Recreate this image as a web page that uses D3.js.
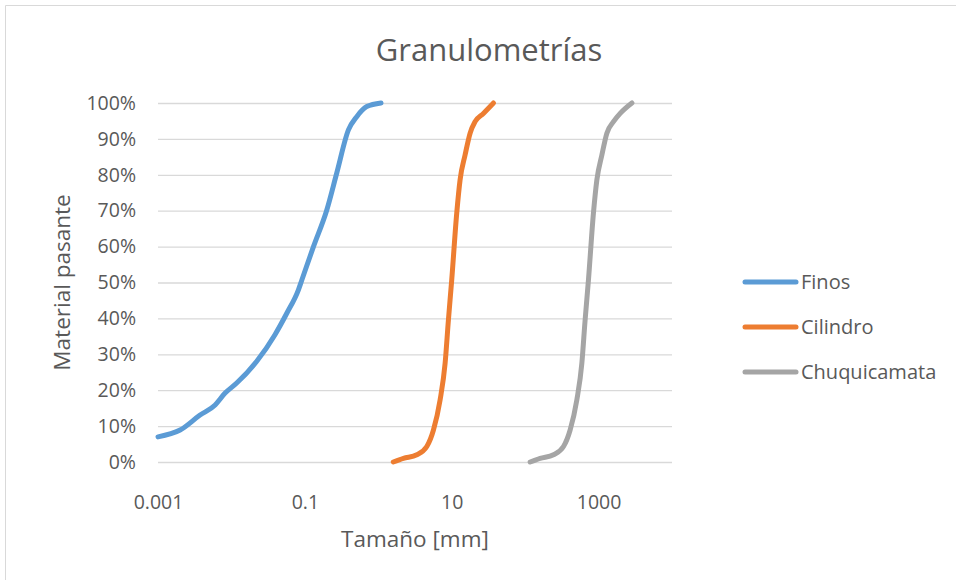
<!DOCTYPE html>
<html>
<head>
<meta charset="utf-8">
<script src="https://cdn.jsdelivr.net/npm/d3@7"></script>
<style>
  html, body { margin: 0; padding: 0; background: #fff; overflow: hidden; }
  svg { display: block; }
  text { font-family: "Open Sans", "Noto Sans", sans-serif; fill: #595959; }
</style>
</head>
<body>
<div id="chart"></div>
<script>
// Particle size (mm) and cumulative passing fraction for each sample
const finosSize = [0.001, 0.002, 0.0037, 0.006, 0.0082, 0.0118, 0.022, 0.039, 0.057, 0.0815, 0.091, 0.131, 0.199, 0.272, 0.392, 0.509, 0.697, 1.09];
const finosPass = [0.07, 0.089, 0.13, 0.159, 0.192, 0.22, 0.28, 0.354, 0.415, 0.479, 0.507, 0.60, 0.702, 0.805, 0.925, 0.962, 0.99, 1.0];

const cilindroSize = [1.6, 2.2, 3.35, 4.58, 5.64, 6.95, 8.13, 9.02, 10.0, 11.7, 13.0, 15.2, 17.8, 20.8, 27.0, 37.0];
const cilindroPass = [0, 0.01, 0.02, 0.043, 0.089, 0.173, 0.275, 0.396, 0.507, 0.693, 0.786, 0.855, 0.916, 0.948, 0.971, 1.0];

const chuquiSize = [117, 160, 243, 333, 410, 506, 592, 656, 728, 851, 948, 1109, 1297, 1596, 1968, 2844];
const chuquiPass = [0, 0.01, 0.02, 0.043, 0.089, 0.173, 0.275, 0.396, 0.507, 0.693, 0.786, 0.855, 0.916, 0.948, 0.971, 1.0];

const xTickValues = [0.001, 0.1, 10, 1000];
const xTickLabels = ['0.001', '0.1', '10', '1000'];
const yTickValues = [0, 0.1, 0.2, 0.3, 0.4, 0.5, 0.6, 0.7, 0.8, 0.9, 1.0];

const series = [
  { name: 'Finos', x: finosSize, y: finosPass, color: '#5B9BD5' },
  { name: 'Cilindro', x: cilindroSize, y: cilindroPass, color: '#ED7D31' },
  { name: 'Chuquicamata', x: chuquiSize, y: chuquiPass, color: '#A5A5A5' }
];

const width = 956;
const height = 580;
const margin = { top: 103, left: 158, right: 284, bottom: 118 };
const innerWidth = width - margin.left - margin.right;
const innerHeight = height - margin.top - margin.bottom;

const svg = d3.select('#chart').append('svg')
  .attr('width', width)
  .attr('height', height);

// Chart frame (only top and left edges show in the crop)
svg.append('path')
  .attr('d', `M5.5,${height}V5.5H${width}`)
  .attr('fill', 'none')
  .attr('stroke', '#d9d9d9')
  .attr('stroke-width', 1);

const g = svg.append('g')
  .attr('transform', `translate(${margin.left},${margin.top})`);

const x = d3.scaleLog()
  .domain([0.001, 10000])
  .range([0, innerWidth]);

const y = d3.scaleLinear()
  .domain([0, 1])
  .range([innerHeight, 0]);

// Horizontal grid lines
g.append('g')
  .attr('class', 'grid')
  .call(d3.axisLeft(y).tickValues(yTickValues).tickSize(-innerWidth).tickFormat(''))
  .call(s => s.select('.domain').remove())
  .call(s => s.selectAll('line').attr('stroke', '#d9d9d9').attr('stroke-width', 1.3));

// Y axis labels
g.append('g')
  .call(d3.axisLeft(y).tickValues(yTickValues).tickSize(0).tickPadding(22).tickFormat(d3.format('.0%')))
  .call(s => s.select('.domain').remove())
  .call(s => s.selectAll('text').style('font-size', '19.5px').attr('fill', '#595959'));

// X axis labels
g.append('g')
  .attr('transform', `translate(0,${innerHeight})`)
  .call(d3.axisBottom(x).tickValues(xTickValues).tickSize(0).tickPadding(33)
    .tickFormat((d, i) => xTickLabels[i]))
  .call(s => s.select('.domain').remove())
  .call(s => s.selectAll('text').style('font-size', '19.5px').attr('fill', '#595959'));

const line = d3.line()
  .x(d => x(d[0]))
  .y(d => y(d[1]))
  .curve(d3.curveMonotoneX);

g.append('g')
  .selectAll('path')
  .data(series)
  .join('path')
  .attr('d', s => line(s.x.map((v, i) => [v, s.y[i]])))
  .attr('fill', 'none')
  .attr('stroke', s => s.color)
  .attr('stroke-width', 5)
  .attr('stroke-linecap', 'round')
  .attr('stroke-linejoin', 'round');

// Title
svg.append('text')
  .attr('x', 489)
  .attr('y', 61)
  .attr('text-anchor', 'middle')
  .style('font-size', '31px')
  .text('Granulometrías');

// Axis titles
svg.append('text')
  .attr('x', margin.left + innerWidth / 2)
  .attr('y', 547)
  .attr('text-anchor', 'middle')
  .style('font-size', '22.5px')
  .text('Tamaño [mm]');

svg.append('text')
  .attr('transform', `translate(70,${margin.top + innerHeight / 2}) rotate(-90)`)
  .attr('text-anchor', 'middle')
  .style('font-size', '22.5px')
  .text('Material pasante');

// Legend
const legend = svg.append('g')
  .attr('transform', 'translate(745,282)');

const item = legend.selectAll('g')
  .data(series)
  .join('g')
  .attr('transform', (d, i) => `translate(0,${i * 45})`);

item.append('line')
  .attr('x1', 0)
  .attr('x2', 51)
  .attr('stroke', d => d.color)
  .attr('stroke-width', 5)
  .attr('stroke-linecap', 'round');

item.append('text')
  .attr('x', 56)
  .attr('dy', '0.35em')
  .style('font-size', '20px')
  .text(d => d.name);
</script>
</body>
</html>
